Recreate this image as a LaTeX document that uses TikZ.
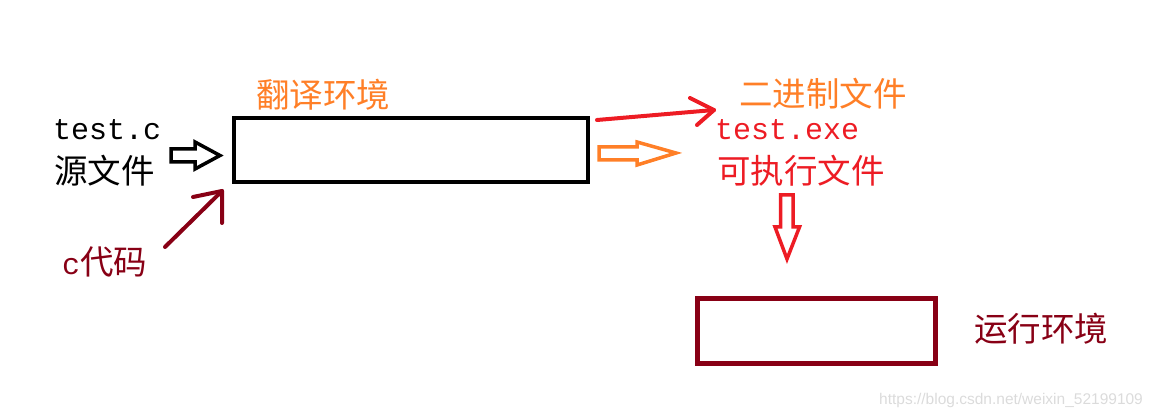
\documentclass[tikz,border=0pt]{standalone}
\usepackage{fontspec}
\setmainfont{Liberation Serif}
\newfontfamily\cjk{Noto Sans CJK SC}
\newfontfamily\monof{Liberation Mono}
\newfontfamily\wmf{Liberation Sans}
\definecolor{myorange}{HTML}{FF7F27}
\definecolor{myred}{HTML}{ED1C24}
\definecolor{mydarkred}{HTML}{880015}
\begin{document}
\begin{tikzpicture}[x=1pt,y=-1pt,
  cjktext/.style={inner sep=0pt,anchor=base west,font=\cjk\fontsize{33.5}{33.5}\selectfont},
  monotext/.style={inner sep=0pt,anchor=base west,font=\monof\fontsize{30}{30}\selectfont},
  boxframe/.style={line width=4pt},
  hollowarrow/.style={line width=3.5pt,line join=miter},
  linearrow/.style={line width=4pt,line cap=round,line join=round}]
\useasboundingbox (0,0) rectangle (1160,419);
% translation box
\draw[boxframe,black] (234,118) rectangle (588,182);
% runtime box
\draw[boxframe,mydarkred,line width=5pt] (697.5,298.5) rectangle (935.5,363.5);
% texts
\node[cjktext,text=myorange] (fanyi) at (256,107.5) {翻译环境};
\node[monotext,text=black] (testc) at (53,140) {test.c};
\node[cjktext,text=black] (yuan) at (54,183.5) {源文件};
\node[inner sep=0pt,anchor=base west,text=mydarkred] (ccode) at (62,275) {{\monof\fontsize{30}{30}\selectfont c}{\cjk\fontsize{33.5}{33.5}\selectfont 代码}};
\node[cjktext,text=myorange] (erjinzhi) at (739,106.5) {二进制文件};
\node[monotext,text=myred] (testexe) at (715,140) {test.exe};
\node[cjktext,text=myred] (kezhixing) at (717,183.5) {可执行文件};
\node[cjktext,text=mydarkred] (yunxing) at (974,341.5) {运行环境};
\node[inner sep=0pt,anchor=base west,text=black!14,font=\wmf\fontsize{15.5}{15.5}\selectfont] (wm) at (879,405) {https://blog.csdn.net/weixin\_52199109};
% black hollow arrow
\draw[hollowarrow,black] (171,149) -- (195,149) -- (195,142) -- (220,155.5) -- (195,169) -- (195,162) -- (171,162) -- cycle;
% dark red line arrow
\coordinate (dtip) at (222,191);
\draw[linearrow,mydarkred] (165,247) -- (dtip);
\draw[linearrow,mydarkred] (193,197) -- (dtip) -- (222,223);
% red line arrow
\coordinate (rtip) at (714,110);
\draw[linearrow,myred] (597,120) -- (rtip);
\draw[linearrow,myred] (690,98) -- (rtip) -- (697,125);
% orange hollow arrow
\draw[hollowarrow,myorange] (599,147) -- (637,147) -- (637,142) -- (676,153) -- (637,165) -- (637,160) -- (599,160) -- cycle;
% red hollow down arrow
\draw[hollowarrow,myred] (780.5,195) -- (793,195) -- (793,227) -- (799.5,227) -- (787,259) -- (775,227) -- (780.5,227) -- cycle;
\end{tikzpicture}
\end{document}
